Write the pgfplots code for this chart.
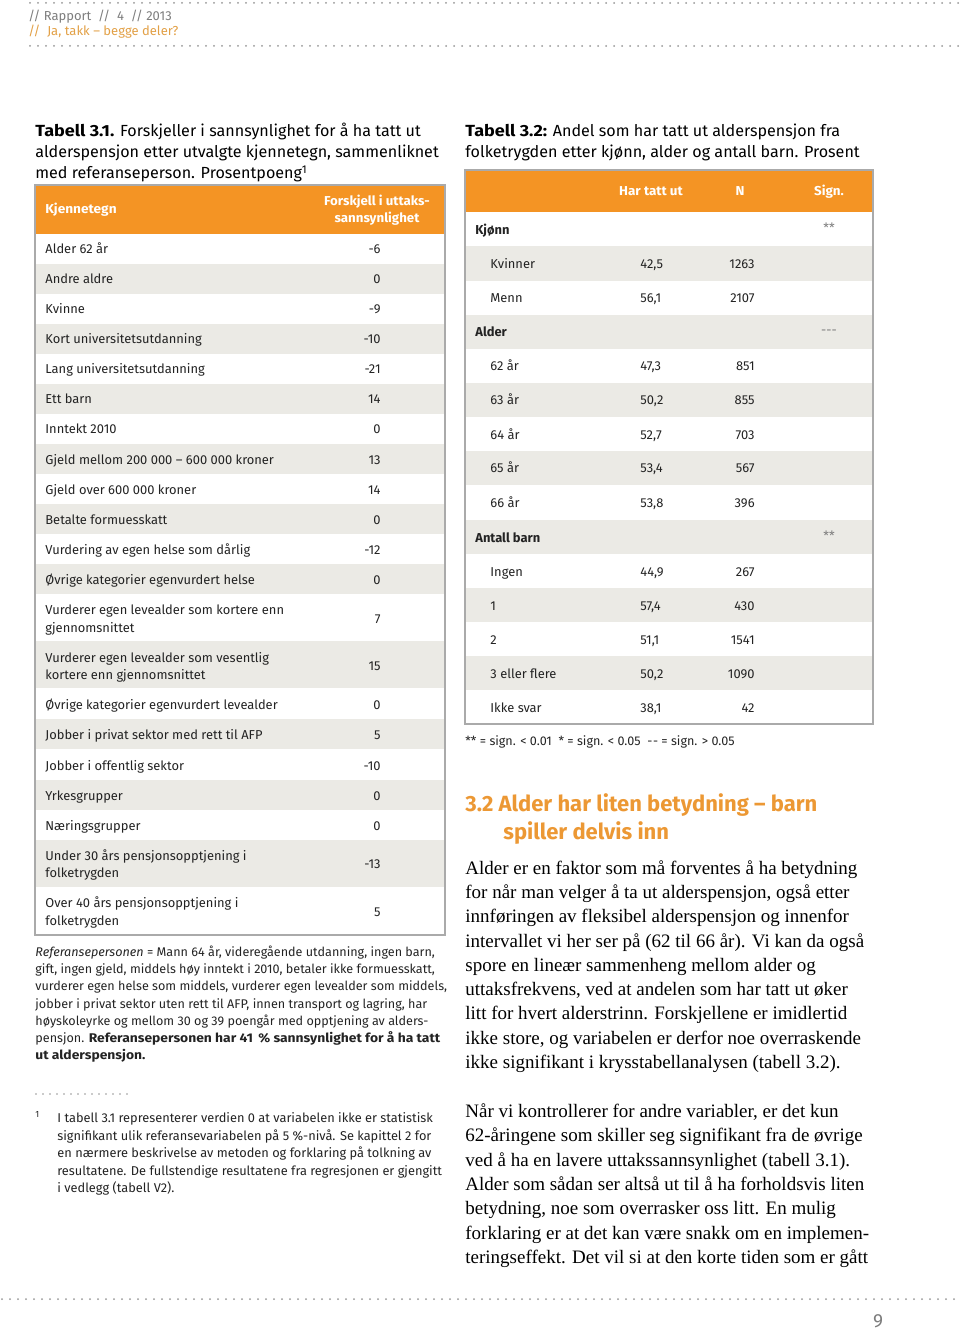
\documentclass[border=0pt]{standalone}
\usepackage{fontspec}
\setmainfont{Liberation Serif}
\newfontfamily\fira{Fira Sans}
\usepackage{pgfplots}
\usepackage{pgfplotstable}
\pgfplotsset{compat=1.18}
\definecolor{hdr}{RGB}{244,148,36}
\definecolor{rowg}{RGB}{235,234,229}
\definecolor{brd}{RGB}{170,170,170}
\definecolor{txt}{RGB}{35,35,35}
\definecolor{orh}{RGB}{236,152,52}
\definecolor{oral}{RGB}{226,160,70}
\definecolor{grt}{RGB}{125,125,125}
\definecolor{dotc}{RGB}{150,150,150}
\newcommand{\tf}{\fira\fontsize{6.45}{8}\selectfont}
\newcommand{\ttl}{\fira\fontsize{8.05}{10}\selectfont}
\newcommand{\nf}{\fira\fontsize{6.3}{8}\selectfont}
\newcommand{\ff}{\fira\fontsize{6.4}{8}\selectfont}
\newcommand{\bodyf}{\fontsize{9.5}{12}\selectfont}
\newcommand{\wb}[2]{{\addfontfeatures{FakeStretch=#1}\bfseries #2}}
\pgfplotstableread{
y v
249 -6
279 0
309 -9
339 -10
369 -21
399 14
429 0
459 13
489 14
519 0
549 -12
579 0
618 7
665 15
704 0
734 5
765 -10
795 0
825 0
863 -13
911 5
}\tabA
\pgfplotstableread{
y p n
264 42.5 1263
298 56.1 2107
366 47.3 851
400 50.2 855
434 52.7 703
468 53.4 567
502 53.8 396
571 44.9 267
605 57.4 430
639 51.1 1541
673 50.2 1090
707 38.1 42
}\tabB
\tikzset{
  L/.style={anchor=base west, inner sep=0pt, font=\tf, text=txt},
  R/.style={anchor=base east, inner sep=0pt, font=\tf, text=txt},
  C/.style={anchor=base, inner sep=0pt, font=\tf, text=txt},
  B/.style={anchor=base west, inner sep=0pt, font=\bodyf, text=black},
  N/.style={anchor=base west, inner sep=0pt, font=\nf, text=txt},
  F/.style={anchor=base west, inner sep=0pt, font=\ff, text=txt},
  dots/.style={dotc, line width=1pt, line cap=round, dash pattern=on 0pt off 4pt},
}
\begin{document}
\begin{tikzpicture}
\begin{axis}[x=0.5pt, y=0.5pt, y dir=reverse, xmin=0, xmax=960, ymin=0, ymax=1331,
  hide axis, clip=false]
\path (axis cs:0,0) rectangle (axis cs:960,1331);
% ---- page header
\draw[dots] (axis cs:30,3) -- (axis cs:960,3);
\draw[dots] (axis cs:30,46) -- (axis cs:960,46);
\node[anchor=base west, inner sep=0pt, font=\fira\fontsize{6.5}{7}\selectfont, text=grt] at (axis cs:28,21) {//\ Rapport\ \ //\ \ 4\ \ //\ 2013};
\node[anchor=base west, inner sep=0pt, font=\fira\fontsize{6.5}{7}\selectfont, text=oral] at (axis cs:28,36) {//\ \ Ja, takk – begge deler?};
% ---- Table 3.1
\node[anchor=base west, inner sep=0pt, font=\ttl, text=black] at (axis cs:35,137) {\wb{1.12}{Tabell 3.1.} Forskjeller i sannsynlighet for å ha tatt ut};
\node[anchor=base west, inner sep=0pt, font=\ttl, text=black] at (axis cs:35,158) {alderspensjon etter utvalgte kjennetegn, sammenliknet};
\node[anchor=base west, inner sep=0pt, font=\ttl, text=black] at (axis cs:35,179) {med referanseperson. Prosentpoeng\textsuperscript{1}};
\fill[hdr] (axis cs:35,185) rectangle (axis cs:445,234);
\fill[rowg] (axis cs:35,264) rectangle (axis cs:445,294);
\fill[rowg] (axis cs:35,324) rectangle (axis cs:445,354);
\fill[rowg] (axis cs:35,384) rectangle (axis cs:445,414);
\fill[rowg] (axis cs:35,444) rectangle (axis cs:445,474);
\fill[rowg] (axis cs:35,504) rectangle (axis cs:445,534);
\fill[rowg] (axis cs:35,564) rectangle (axis cs:445,594);
\fill[rowg] (axis cs:35,641) rectangle (axis cs:445,688);
\fill[rowg] (axis cs:35,719) rectangle (axis cs:445,749);
\fill[rowg] (axis cs:35,780) rectangle (axis cs:445,810);
\fill[rowg] (axis cs:35,840) rectangle (axis cs:445,887);
\draw[brd, line width=0.6pt] (axis cs:35,185) rectangle (axis cs:445,935);
\node[L, text=white, font=\tf] at (axis cs:45,214) {\wb{1.06}{Kjennetegn}};
\node[C, text=white, font=\tf] at (axis cs:377,206) {\wb{1.03}{Forskjell i uttaks-}};
\node[C, text=white, font=\tf] at (axis cs:377,223) {\wb{1.03}{sannsynlighet}};
\node[L] at (axis cs:45,254) {Alder 62 år};
\node[L] at (axis cs:45,284) {Andre aldre};
\node[L] at (axis cs:45,314) {Kvinne};
\node[L] at (axis cs:45,344) {Kort universitetsutdanning};
\node[L] at (axis cs:45,374) {Lang universitetsutdanning};
\node[L] at (axis cs:45,404) {Ett barn};
\node[L] at (axis cs:45,434) {Inntekt 2010};
\node[L] at (axis cs:45,464) {Gjeld mellom 200 000 – 600 000 kroner};
\node[L] at (axis cs:45,494) {Gjeld over 600 000 kroner};
\node[L] at (axis cs:45,524) {Betalte formuesskatt};
\node[L] at (axis cs:45,554) {Vurdering av egen helse som dårlig};
\node[L] at (axis cs:45,584) {Øvrige kategorier egenvurdert helse};
\node[L] at (axis cs:45,614) {Vurderer egen levealder som kortere enn};
\node[L] at (axis cs:45,632) {gjennomsnittet};
\node[L] at (axis cs:45,662) {Vurderer egen levealder som vesentlig};
\node[L] at (axis cs:45,679) {kortere enn gjennomsnittet};
\node[L] at (axis cs:45,709) {Øvrige kategorier egenvurdert levealder};
\node[L] at (axis cs:45,739) {Jobber i privat sektor med rett til AFP};
\node[L] at (axis cs:45,770) {Jobber i offentlig sektor};
\node[L] at (axis cs:45,800) {Yrkesgrupper};
\node[L] at (axis cs:45,830) {Næringsgrupper};
\node[L] at (axis cs:45,860) {Under 30 års pensjonsopptjening i};
\node[L] at (axis cs:45,877) {folketrygden};
\node[L] at (axis cs:45,907) {Over 40 års pensjonsopptjening i};
\node[L] at (axis cs:45,925) {folketrygden};
\addplot[draw=none, mark=none, nodes near coords, point meta=explicit symbolic,
  every node near coord/.style={anchor=base east, inner sep=0pt, font=\tf, text=txt}]
  table[x expr=381, y expr=\thisrow{y}+5, meta=v] {\tabA};
% ---- Referanse text
\node[N] at (axis cs:35,956) {\textit{Referansepersonen} = Mann 64 år, videregående utdanning, ingen barn,};
\node[N] at (axis cs:35,973) {gift, ingen gjeld, middels høy inntekt i 2010, betaler ikke formuesskatt,};
\node[N] at (axis cs:35,990) {vurderer egen helse som middels, vurderer egen levealder som middels,};
\node[N] at (axis cs:35,1008) {jobber i privat sektor uten rett til AFP, innen transport og lagring, har};
\node[N] at (axis cs:35,1025) {høyskoleyrke og mellom 30 og 39 poengår med opptjening av alders-};
\node[N] at (axis cs:35,1042) {pensjon. \wb{1.1}{Referansepersonen har 41\ \,\% sannsynlighet for å ha tatt}};
\node[N] at (axis cs:35,1059) {\wb{1.1}{ut alderspensjon.}};
\draw[dotc, line width=0.9pt, line cap=round, dash pattern=on 0pt off 3.5pt] (axis cs:36,1094) -- (axis cs:133,1094);
\node[anchor=base west, inner sep=0pt, font=\fira\fontsize{4.5}{5}\selectfont, text=txt] at (axis cs:35,1117) {1};
\node[F] at (axis cs:57,1122) {I tabell 3.1 representerer verdien 0 at variabelen ikke er statistisk};
\node[F] at (axis cs:57,1140) {signifikant ulik referansevariabelen på 5 \%-nivå. Se kapittel 2 for};
\node[F] at (axis cs:57,1157) {en nærmere beskrivelse av metoden og forklaring på tolkning av};
\node[F] at (axis cs:57,1175) {resultatene. De fullstendige resultatene fra regresjonen er gjengitt};
\node[F] at (axis cs:57,1192) {i vedlegg (tabell V2).};
% ---- Table 3.2
\node[anchor=base west, inner sep=0pt, font=\ttl, text=black] at (axis cs:465,137) {\wb{1.12}{Tabell 3.2:} Andel som har tatt ut alderspensjon fra};
\node[anchor=base west, inner sep=0pt, font=\ttl, text=black] at (axis cs:465,158) {folketrygden etter kjønn, alder og antall barn. Prosent};
\fill[hdr] (axis cs:465,170) rectangle (axis cs:873,212);
\fill[rowg] (axis cs:465,246) rectangle (axis cs:873,281);
\fill[rowg] (axis cs:465,315) rectangle (axis cs:873,349);
\fill[rowg] (axis cs:465,383) rectangle (axis cs:873,417);
\fill[rowg] (axis cs:465,451) rectangle (axis cs:873,485);
\fill[rowg] (axis cs:465,520) rectangle (axis cs:873,554);
\fill[rowg] (axis cs:465,588) rectangle (axis cs:873,622);
\fill[rowg] (axis cs:465,656) rectangle (axis cs:873,690);
\draw[brd, line width=0.6pt] (axis cs:465,170) rectangle (axis cs:873,724);
\node[C, text=white, font=\tf] at (axis cs:651,196) {\wb{1.04}{Har tatt ut}};
\node[C, text=white, font=\tf] at (axis cs:740,196) {\wb{1.04}{N}};
\node[C, text=white, font=\tf] at (axis cs:829,196) {\wb{1.04}{Sign.}};
\node[L, font=\tf\bfseries] at (axis cs:475,235) {Kjønn};
\node[L, font=\tf\bfseries] at (axis cs:475,337) {Alder};
\node[L, font=\tf\bfseries] at (axis cs:475,542) {Antall barn};
\node[C, text=grt] at (axis cs:829,233) {**};
\node[C, text=grt] at (axis cs:829,335) {---};
\node[C, text=grt] at (axis cs:829,540) {**};
\node[L] at (axis cs:490,269) {Kvinner};
\node[L] at (axis cs:490,303) {Menn};
\node[L] at (axis cs:490,371) {62 år};
\node[L] at (axis cs:490,405) {63 år};
\node[L] at (axis cs:490,439) {64 år};
\node[L] at (axis cs:490,473) {65 år};
\node[L] at (axis cs:490,507) {66 år};
\node[L] at (axis cs:490,576) {Ingen};
\node[L] at (axis cs:490,610) {1};
\node[L] at (axis cs:490,644) {2};
\node[L] at (axis cs:490,678) {3 eller flere};
\node[L] at (axis cs:490,712) {Ikke svar};
\addplot[draw=none, mark=none, nodes near coords={\pgfmathprintnumber[fixed, fixed zerofill, precision=1, use comma, assume math mode=true]{\pgfplotspointmeta}}, point meta=explicit,
  every node near coord/.style={anchor=base west, inner sep=0pt, font=\tf, text=txt}]
  table[x expr=640, y expr=\thisrow{y}+5, meta=p] {\tabB};
\addplot[draw=none, mark=none, nodes near coords={\pgfmathprintnumber[fixed, precision=0, 1000 sep={}, assume math mode=true]{\pgfplotspointmeta}}, point meta=explicit,
  every node near coord/.style={anchor=base east, inner sep=0pt, font=\tf, text=txt}]
  table[x expr=755, y expr=\thisrow{y}+5, meta=n] {\tabB};
\node[N] at (axis cs:465,745) {** = sign. < 0.01\ \ * = sign. < 0.05\ \ -\kern0.3pt- = sign. > 0.05};
% ---- Section heading
\node[anchor=base west, inner sep=0pt, font=\fira\bfseries\fontsize{11}{13}\selectfont, text=orh] at (axis cs:465,811) {3.2 Alder har liten betydning – barn};
\node[anchor=base west, inner sep=0pt, font=\fira\bfseries\fontsize{11}{13}\selectfont, text=orh] at (axis cs:503,839) {spiller delvis inn};
% ---- Body text
\node[B] at (axis cs:465,874) {Alder er en faktor som må forventes å ha betydning};
\node[B] at (axis cs:465,898) {for når man velger å ta ut alderspensjon, også etter};
\node[B] at (axis cs:465,922) {innføringen av fleksibel alderspensjon og innenfor};
\node[B] at (axis cs:465,947) {intervallet vi her ser på (62 til 66 år). Vi kan da også};
\node[B] at (axis cs:465,971) {spore en lineær sammenheng mellom alder og};
\node[B] at (axis cs:465,995) {uttaksfrekvens, ved at andelen som har tatt ut øker};
\node[B] at (axis cs:465,1019) {litt for hvert alderstrinn. Forskjellene er imidlertid};
\node[B] at (axis cs:465,1044) {ikke store, og variabelen er derfor noe overraskende};
\node[B] at (axis cs:465,1068) {ikke signifikant i krysstabellanalysen (tabell 3.2).};
\node[B] at (axis cs:465,1117) {Når vi kontrollerer for andre variabler, er det kun};
\node[B] at (axis cs:465,1141) {62-åringene som skiller seg signifikant fra de øvrige};
\node[B] at (axis cs:465,1166) {ved å ha en lavere uttakssannsynlighet (tabell 3.1).};
\node[B] at (axis cs:465,1190) {Alder som sådan ser altså ut til å ha forholdsvis liten};
\node[B] at (axis cs:465,1214) {betydning, noe som overrasker oss litt. En mulig};
\node[B] at (axis cs:465,1239) {forklaring er at det kan være snakk om en implemen-};
\node[B] at (axis cs:465,1263) {teringseffekt. Det vil si at den korte tiden som er gått};
% ---- footer
\draw[dots] (axis cs:2,1299) -- (axis cs:960,1299);
\node[anchor=base, inner sep=0pt, font=\fira\fontsize{9.5}{11}\selectfont, text=grt] at (axis cs:878,1327) {9};
\end{axis}
\end{tikzpicture}
\end{document}
